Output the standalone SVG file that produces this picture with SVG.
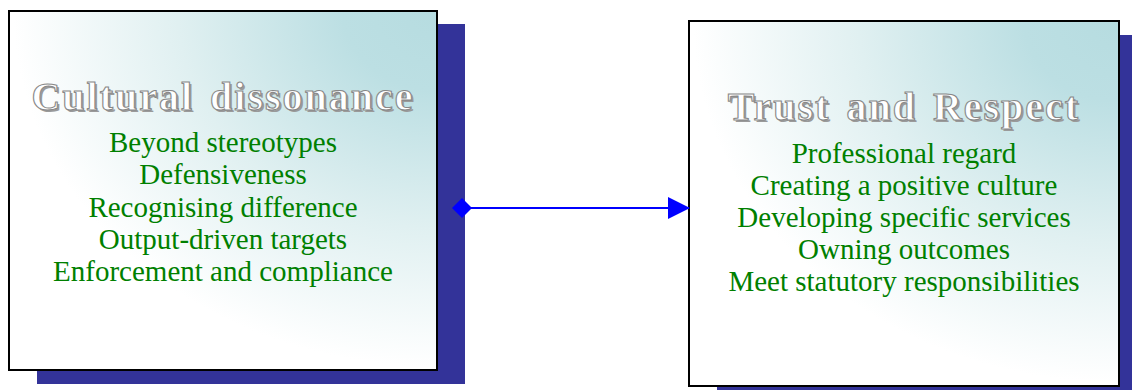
<svg xmlns="http://www.w3.org/2000/svg" width="1132" height="390" viewBox="0 0 1132 390">
<defs>
<radialGradient id="bg" cx="1" cy="0" r="1.1" fx="1" fy="0">
<stop offset="0" stop-color="#b6dce0"/>
<stop offset="0.2" stop-color="#bcdfe3"/>
<stop offset="0.55" stop-color="#e0f0f1"/>
<stop offset="0.9" stop-color="#ffffff"/>
</radialGradient>
<marker id="diamond" viewBox="0 0 20 20" refX="10" refY="10" markerWidth="20" markerHeight="20" markerUnits="userSpaceOnUse" orient="auto">
<path d="M0,10 L10,0 L20,10 L10,20 Z" fill="#0000ff"/>
</marker>
<marker id="arrow" viewBox="0 0 22 22" refX="21" refY="11" markerWidth="22" markerHeight="22" markerUnits="userSpaceOnUse" orient="auto">
<path d="M0,0 L22,11 L0,22 Z" fill="#0000ff"/>
</marker>
</defs>
<style>
.shadow{fill:#333399}
.box{fill:url(#bg);stroke:#000;stroke-width:2}
.title{font-family:"Liberation Serif",serif;font-weight:bold;font-size:40px;letter-spacing:2px;word-spacing:4px;text-anchor:middle}
.tshadow{fill:#9a9a9a}
.tmain{fill:#ffffff;stroke:#888888;stroke-width:1.1}
.item{font-family:"Liberation Serif",serif;font-size:29px;fill:#008000;text-anchor:middle}
.conn{stroke:#0000ff;stroke-width:2;fill:none}
</style>
<g id="node-cultural">
<rect class="shadow" x="37" y="24" width="428" height="360"/>
<rect class="box" x="9" y="11" width="428" height="359"/>
<text class="title tshadow" x="225" y="112">Cultural dissonance</text>
<text class="title tmain" x="223" y="110">Cultural dissonance</text>
<text class="item" x="223" y="152">Beyond stereotypes</text>
<text class="item" x="223" y="184">Defensiveness</text>
<text class="item" x="223" y="217">Recognising difference</text>
<text class="item" x="223" y="249">Output-driven targets</text>
<text class="item" x="223" y="281">Enforcement and compliance</text>
</g>
<g id="node-trust">
<rect class="shadow" x="717" y="35" width="415" height="355"/>
<rect class="box" x="689" y="21" width="430" height="365"/>
<text class="title tshadow" x="906" y="122">Trust and Respect</text>
<text class="title tmain" x="904" y="120">Trust and Respect</text>
<text class="item" x="904" y="163">Professional regard</text>
<text class="item" x="904" y="195">Creating a positive culture</text>
<text class="item" x="904" y="227">Developing specific services</text>
<text class="item" x="904" y="259">Owning outcomes</text>
<text class="item" x="904" y="291">Meet statutory responsibilities</text>
</g>
<g id="connectors">
<line class="conn" x1="462" y1="208" x2="689" y2="208" marker-start="url(#diamond)" marker-end="url(#arrow)"/>
</g>
</svg>
